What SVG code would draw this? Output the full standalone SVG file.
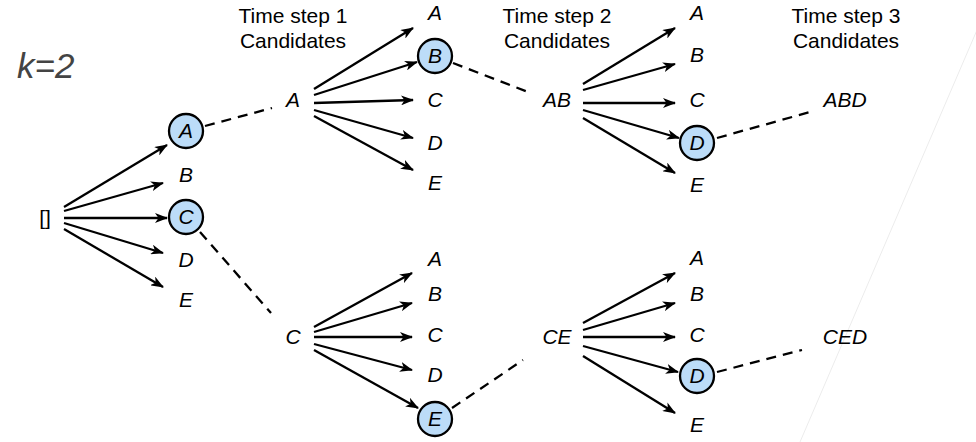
<svg xmlns="http://www.w3.org/2000/svg" width="976" height="442" viewBox="0 0 976 442">
<defs>
<marker id="ah" viewBox="0 0 13 10" refX="12" refY="5" markerWidth="13" markerHeight="10" markerUnits="userSpaceOnUse" orient="auto">
<path d="M0,0 L13,5 L0,10 L3.5,5 z" fill="#000"/>
</marker>
<style>
.t{font-family:"Liberation Sans",Arial,sans-serif;font-size:21px;font-style:italic;fill:#000;text-anchor:middle}
.h{font-family:"Liberation Sans",Arial,sans-serif;font-size:21px;fill:#000;text-anchor:middle}
.n{fill:#bcdcf8;stroke:#000;stroke-width:2.3}
.a{stroke:#000;stroke-width:2.3;fill:none;marker-end:url(#ah)}
.d{stroke:#000;stroke-width:2.3;fill:none;stroke-dasharray:10,7}
</style>
</defs>
<rect width="976" height="442" fill="#fff"/>
<line x1="977" y1="30" x2="800" y2="442" stroke="#ececec" stroke-width="1"/>
<text x="17" y="78" font-family="Liberation Sans,Arial,sans-serif" font-size="35" font-style="italic" fill="#444">k=2</text>
<g id="headers">
<text class="h" x="293" y="23">Time step 1</text>
<text class="h" x="293" y="48">Candidates</text>
<text class="h" x="557" y="23">Time step 2</text>
<text class="h" x="557" y="48">Candidates</text>
<text class="h" x="846" y="23">Time step 3</text>
<text class="h" x="846" y="48">Candidates</text>
</g>
<g id="connectors">
<line class="a" x1="64" y1="207" x2="167" y2="145"/>
<line class="a" x1="64" y1="211" x2="163" y2="183"/>
<line class="a" x1="64" y1="218" x2="167" y2="218"/>
<line class="a" x1="64" y1="223" x2="163" y2="253"/>
<line class="a" x1="64" y1="229" x2="163" y2="287"/>
<line class="d" x1="205" y1="126" x2="272" y2="108"/>
<line class="d" x1="200" y1="232" x2="271" y2="313"/>
<line class="a" x1="314" y1="89" x2="413" y2="28"/>
<line class="a" x1="314" y1="95" x2="417" y2="62"/>
<line class="a" x1="314" y1="103" x2="413" y2="100"/>
<line class="a" x1="314" y1="110" x2="413" y2="138"/>
<line class="a" x1="314" y1="116" x2="413" y2="170"/>
<line class="d" x1="453" y1="63" x2="528" y2="92"/>
<line class="a" x1="583" y1="84" x2="675" y2="28"/>
<line class="a" x1="583" y1="90" x2="675" y2="64"/>
<line class="a" x1="583" y1="103" x2="675" y2="103"/>
<line class="a" x1="583" y1="110" x2="679" y2="138"/>
<line class="a" x1="583" y1="118" x2="675" y2="173"/>
<line class="d" x1="717" y1="138" x2="810" y2="112"/>
<line class="a" x1="314" y1="327" x2="412" y2="273"/>
<line class="a" x1="314" y1="332" x2="412" y2="303"/>
<line class="a" x1="314" y1="337" x2="412" y2="337"/>
<line class="a" x1="314" y1="344" x2="412" y2="370"/>
<line class="a" x1="314" y1="350" x2="418" y2="408"/>
<line class="d" x1="452" y1="408" x2="523" y2="360"/>
<line class="a" x1="583" y1="323" x2="675" y2="273"/>
<line class="a" x1="583" y1="330" x2="675" y2="303"/>
<line class="a" x1="583" y1="337" x2="675" y2="337"/>
<line class="a" x1="583" y1="346" x2="678" y2="372"/>
<line class="a" x1="583" y1="356" x2="675" y2="413"/>
<line class="d" x1="717" y1="372" x2="802" y2="350"/>
</g>
<g id="root"><text class="h" x="45" y="225">[]</text></g>
<g id="l1-A"><circle class="n" cx="186" cy="131" r="17"/><text class="t" x="186" y="138">A</text></g>
<g id="l1-B"><text class="t" x="186" y="182">B</text></g>
<g id="l1-C"><circle class="n" cx="186" cy="217" r="17"/><text class="t" x="186" y="224">C</text></g>
<g id="l1-D"><text class="t" x="186" y="267">D</text></g>
<g id="l1-E"><text class="t" x="186" y="307">E</text></g>
<g id="p-A"><text class="t" x="293" y="107">A</text></g>
<g id="p-C"><text class="t" x="293" y="344">C</text></g>
<g id="l2a-A"><text class="t" x="435" y="20">A</text></g>
<g id="l2a-B"><circle class="n" cx="435" cy="56" r="17"/><text class="t" x="435" y="63">B</text></g>
<g id="l2a-C"><text class="t" x="435" y="107">C</text></g>
<g id="l2a-D"><text class="t" x="435" y="150">D</text></g>
<g id="l2a-E"><text class="t" x="435" y="190">E</text></g>
<g id="l2b-A"><text class="t" x="435" y="266">A</text></g>
<g id="l2b-B"><text class="t" x="435" y="301">B</text></g>
<g id="l2b-C"><text class="t" x="435" y="342">C</text></g>
<g id="l2b-D"><text class="t" x="435" y="382">D</text></g>
<g id="l2b-E"><circle class="n" cx="435" cy="419" r="17"/><text class="t" x="435" y="426">E</text></g>
<g id="p-AB"><text class="t" x="557" y="107">AB</text></g>
<g id="p-CE"><text class="t" x="557" y="344">CE</text></g>
<g id="l3a-A"><text class="t" x="697" y="20">A</text></g>
<g id="l3a-B"><text class="t" x="697" y="62">B</text></g>
<g id="l3a-C"><text class="t" x="697" y="107">C</text></g>
<g id="l3a-D"><circle class="n" cx="697" cy="143" r="17"/><text class="t" x="697" y="150">D</text></g>
<g id="l3a-E"><text class="t" x="697" y="192">E</text></g>
<g id="l3b-A"><text class="t" x="697" y="265">A</text></g>
<g id="l3b-B"><text class="t" x="697" y="301">B</text></g>
<g id="l3b-C"><text class="t" x="697" y="342">C</text></g>
<g id="l3b-D"><circle class="n" cx="697" cy="376" r="17"/><text class="t" x="697" y="383">D</text></g>
<g id="l3b-E"><text class="t" x="697" y="432">E</text></g>
<g id="r-ABD"><text class="t" x="845" y="107">ABD</text></g>
<g id="r-CED"><text class="t" x="845" y="344">CED</text></g>
</svg>
